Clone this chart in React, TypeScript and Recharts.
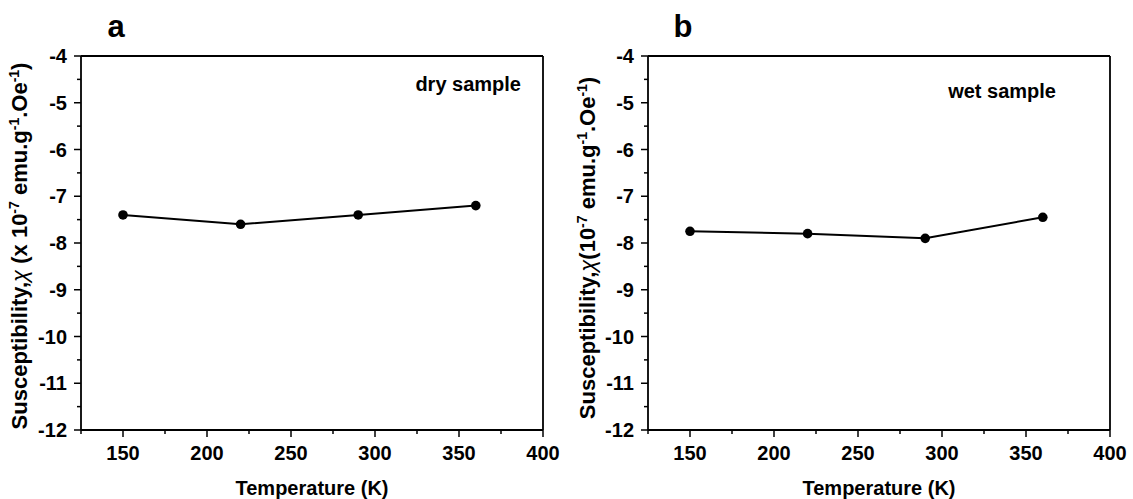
import React from 'react';
import { LineChart, Line, XAxis, YAxis, ReferenceLine } from 'recharts';

const tempK = [150, 220, 290, 360];
const drySample = [-7.4, -7.6, -7.4, -7.2];
const wetSample = [-7.75, -7.8, -7.9, -7.45];

const xTicks = [125, 150, 175, 200, 225, 250, 275, 300, 325, 350, 375, 400];
const yTicks = [-12, -11.5, -11, -10.5, -10, -9.5, -9, -8.5, -8, -7.5, -7, -6.5, -6, -5.5, -5, -4.5, -4];

const FONT = '"Liberation Sans", Arial, sans-serif';
const AXIS = { stroke: '#000', strokeWidth: 1.8 };

const XTick = (props: any) => {
  const { x, y, payload } = props;
  const major = payload.value % 50 === 0;
  return (
    <g>
      <line x1={x} x2={x} y1={y} y2={y + (major ? 7 : 4)} stroke="#000" strokeWidth={1.5} />
      {major && (
        <text x={x} y={y + 30} textAnchor="middle" fontFamily={FONT} fontWeight="bold" fontSize={20} fill="#000">
          {payload.value}
        </text>
      )}
    </g>
  );
};

const YTick = (props: any) => {
  const { x, y, payload } = props;
  const major = Number.isInteger(payload.value);
  return (
    <g>
      <line x1={x} x2={x - (major ? 7 : 4)} y1={y} y2={y} stroke="#000" strokeWidth={1.5} />
      {major && (
        <text x={x - 14} y={y + 7} textAnchor="end" fontFamily={FONT} fontWeight="bold" fontSize={20} fill="#000">
          {payload.value}
        </text>
      )}
    </g>
  );
};

const sup = { baselineShift: 'super', fontSize: 14 } as any;

type PanelProps = {
  values: number[];
  letter: string;
  note: string;
  wide: boolean;
  width: number;
  yWidth: number;
  right: number;
};

const Panel = ({ values, letter, note, wide, width, yWidth, right }: PanelProps) => {
  const data = tempK.map((t, i) => ({ t, v: values[i] }));
  const plotRight = width - right;
  const midX = (yWidth + plotRight) / 2;
  return (
    <div style={{ position: 'relative', width, height: 499 }}>
      <LineChart width={width} height={499} data={data} margin={{ top: 56, right, left: 0, bottom: 0 }}>
        <XAxis
          dataKey="t"
          type="number"
          domain={[125, 400]}
          ticks={xTicks}
          interval={0}
          tickSize={0}
          tickMargin={0}
          tickLine={false}
          tick={<XTick />}
          height={69}
          axisLine={AXIS}
        />
        <YAxis
          type="number"
          domain={[-12, -4]}
          ticks={yTicks}
          interval={0}
          tickSize={0}
          tickMargin={0}
          tickLine={false}
          tick={<YTick />}
          width={yWidth}
          axisLine={AXIS}
        />
        <ReferenceLine y={-4} stroke="#000" strokeWidth={1.8} />
        <ReferenceLine x={400} stroke="#000" strokeWidth={1.8} />
        <Line
          dataKey="v"
          stroke="#000"
          strokeWidth={2}
          dot={{ r: 4.8, fill: '#000', stroke: '#000', strokeWidth: 0 }}
          isAnimationActive={false}
        />
        <text x={midX} y={495} textAnchor="middle" fontFamily={FONT} fontWeight="bold" fontSize={20} fill="#000">
          Temperature (K)
        </text>
        <text
          transform={`translate(${wide ? 27 : 29},${wide ? 246 : 248}) rotate(-90)`}
          textAnchor="middle"
          fontFamily={FONT}
          fontWeight="bold"
          fontSize={22}
          fill="#000"
        >
          Susceptibility,<tspan fontStyle="italic" fontWeight="normal">χ</tspan>
          {wide ? ' (x 10' : '(10'}
          <tspan {...sup}>-7</tspan>
          <tspan baselineShift="0"> emu.g</tspan>
          <tspan {...sup}>-1</tspan>
          <tspan baselineShift="0">.Oe</tspan>
          <tspan {...sup}>-1</tspan>
          <tspan baselineShift="0">)</tspan>
        </text>
        <text x={plotRight - (wide ? 22 : 54)} y={wide ? 91 : 98} textAnchor="end" fontFamily={FONT} fontWeight="bold" fontSize={20} fill="#000">
          {note}
        </text>
        <text x={wide ? 116 : 117} y={37} textAnchor="middle" fontFamily={FONT} fontWeight="bold" fontSize={31} fill="#000">
          {letter}
        </text>
      </LineChart>
    </div>
  );
};

export default function App() {
  return (
    <div style={{ position: 'absolute', left: 0, top: 0, width: 1133, height: 499, background: '#fff', display: 'flex' }}>
      <Panel values={drySample} letter="a" note="dry sample" wide={true} width={566} yWidth={81} right={23} />
      <Panel values={wetSample} letter="b" note="wet sample" wide={false} width={567} yWidth={82} right={23} />
    </div>
  );
}
